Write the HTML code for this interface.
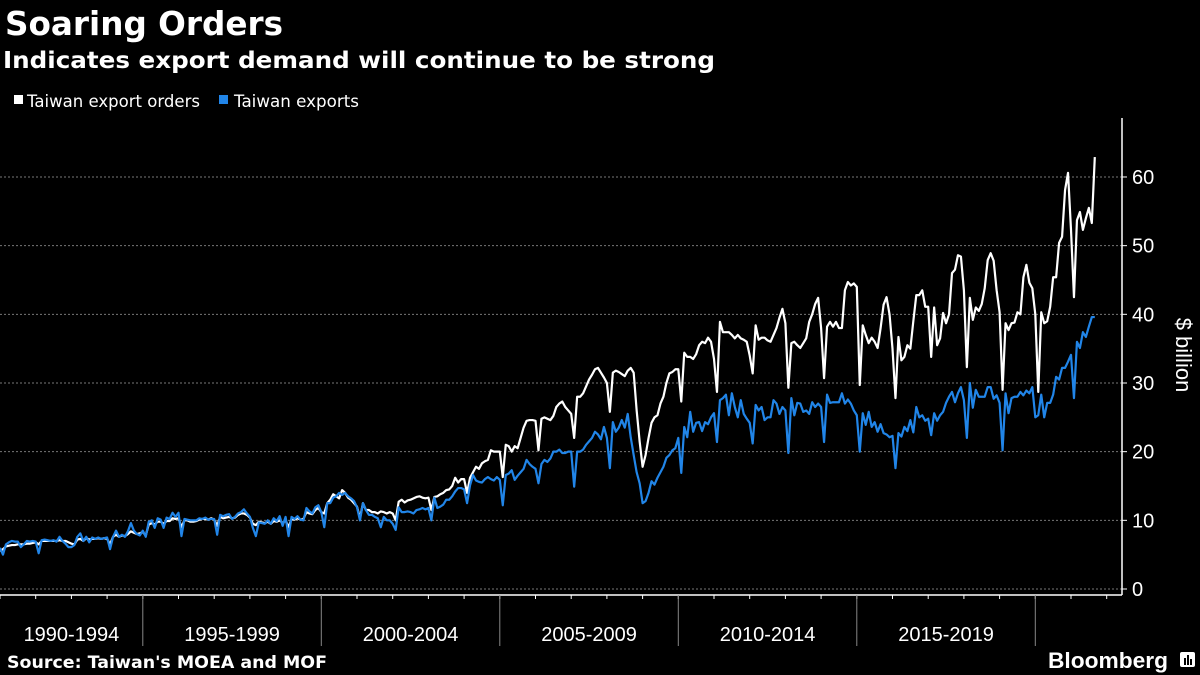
<!DOCTYPE html>
<html><head><meta charset="utf-8"><style>
html,body{margin:0;padding:0;background:#000;}
svg{display:block;font-family:"Liberation Sans","DejaVu Sans",sans-serif;}
.h{font-family:"DejaVu Sans","Liberation Sans",sans-serif;}
</style></head><body>
<svg id="chart" width="1200" height="675" viewBox="0 0 1200 675" xmlns="http://www.w3.org/2000/svg">
<rect x="0" y="0" width="1200" height="675" fill="#000"/>
<text class="h" x="5" y="35" fill="#fff" font-size="33" font-weight="bold" textLength="278" lengthAdjust="spacingAndGlyphs">Soaring Orders</text>
<text class="h" x="3" y="68" fill="#fff" font-size="23" font-weight="bold" textLength="712" lengthAdjust="spacingAndGlyphs">Indicates export demand will continue to be strong</text>
<g>
<g>
<rect x="14" y="95" width="9" height="9" fill="#fff"/>
<text class="h" x="27" y="107" fill="#fff" font-size="17" textLength="173" lengthAdjust="spacingAndGlyphs">Taiwan export orders</text>
</g>
<g>
<rect x="219" y="95" width="9" height="9" fill="#2185e8"/>
<text class="h" x="234" y="107" fill="#fff" font-size="17" textLength="125" lengthAdjust="spacingAndGlyphs">Taiwan exports</text>
</g>
</g>
<g id="grid"></g>
<g id="xaxis"></g>
<g id="yaxis"></g>
<g id="series"></g>
<text transform="translate(1176,355) rotate(90)" text-anchor="middle" fill="#fff" font-size="22">$ billion</text>
<text class="h" x="7" y="668" fill="#fff" font-size="17" font-weight="bold" textLength="320" lengthAdjust="spacingAndGlyphs">Source: Taiwan's MOEA and MOF</text>
<text x="1048" y="668" fill="#fff" font-size="22" font-weight="bold" textLength="120" lengthAdjust="spacingAndGlyphs">Bloomberg</text>
<g>
<rect x="1180" y="652" width="15" height="15" rx="2" fill="#fff"/>
<rect x="1184" y="658" width="2" height="7" fill="#000"/><rect x="1187" y="655" width="2" height="10" fill="#000"/><rect x="1190" y="659" width="2" height="6" fill="#000"/>
</g>
</svg>
<script>
const startYear = 1991;
const bandLabels = ["1990-1994","1995-1999","2000-2004","2005-2009","2010-2014","2015-2019"];
const bandStarts = [1990,1995,2000,2005,2010,2015,2020];
const yTicks = [0,10,20,30,40,50,60];
const orders = [
5.5,5.8,6.2,6.3,6.4,6.4,6.5,6.5,6.5,6.6,6.6,6.7,
6.8,6.5,7.0,7.0,7.0,7.0,7.0,7.0,7.1,7.0,7.0,6.8,
6.6,6.5,7.2,7.3,7.0,7.4,7.2,7.3,7.3,7.4,7.3,7.4,
7.3,6.5,7.6,7.9,7.6,7.8,7.7,8.0,8.4,8.2,8.0,8.1,
8.3,7.8,9.4,9.6,9.4,9.8,9.8,9.5,9.9,9.9,10.3,10.2,
10.3,9.0,10.0,10.0,9.8,9.8,9.9,10.1,10.2,10.2,10.1,10.3,
10.1,9.2,10.5,10.3,10.4,10.5,10.3,10.4,10.8,11.0,11.0,10.8,
10.4,9.5,9.3,9.8,9.7,9.6,9.8,9.5,9.9,9.8,10.0,9.6,
10.0,9.0,10.2,10.1,10.3,10.1,10.2,11.2,11.0,10.9,11.5,11.8,
11.2,11.0,12.5,13.0,13.8,13.5,13.2,14.4,14.0,13.3,13.0,12.5,
12.0,10.3,12.5,11.5,11.5,11.2,11.2,11.0,11.3,11.2,11.0,11.2,
11.0,10.0,12.7,13.0,12.6,12.9,13.0,13.2,13.4,13.5,13.3,13.2,
13.3,11.5,13.4,13.5,13.8,14.0,14.4,14.5,15.0,16.2,15.5,16.0,
16.0,14.0,16.2,17.0,17.8,17.5,18.3,18.6,18.8,20.2,20.0,20.0,
20.0,16.3,21.0,20.8,20.0,20.8,20.5,22.0,23.5,24.5,24.6,24.6,
24.5,20.2,24.8,25.0,24.8,24.6,25.2,26.5,27.0,27.3,26.5,26.0,
25.5,22.0,28.0,28.0,28.5,29.5,30.5,31.2,32.0,32.2,31.5,30.8,
30.0,25.8,31.5,31.8,31.6,31.3,31.0,31.8,32.2,31.5,26.0,21.5,
17.8,19.5,22.0,24.2,25.0,25.3,27.0,28.0,30.0,31.4,31.6,32.0,
32.0,27.3,34.4,33.8,33.8,33.5,34.2,35.5,36.0,35.8,36.6,36.0,
33.5,28.7,38.9,37.4,37.4,37.4,37.0,36.5,37.0,36.5,36.3,36.0,
34.0,31.4,38.4,36.3,36.6,36.6,36.2,36.0,37.0,38.0,39.5,40.8,
38.7,29.3,35.8,36.0,35.5,35.1,35.8,36.5,38.9,40.0,41.5,42.4,
38.0,30.7,38.2,38.9,38.2,38.9,38.0,38.0,43.5,44.7,44.2,44.5,
44.0,29.7,38.4,37.0,35.8,36.6,36.0,35.1,38.0,41.4,42.5,40.0,
35.0,27.8,36.7,33.3,33.8,35.5,35.0,39.0,42.8,42.8,43.5,41.1,
41.1,33.8,41.0,35.5,36.5,40.2,38.7,40.0,46.0,46.5,48.6,48.4,
43.5,32.3,42.4,39.2,41.0,40.5,41.5,43.8,47.9,48.9,47.8,43.5,
40.3,29.0,38.7,37.7,38.7,38.8,40.3,40.0,45.4,47.2,44.6,43.8,
40.0,28.7,40.3,38.7,39.0,41.1,45.4,45.4,50.4,51.3,58.1,60.6,
52.3,42.5,53.7,54.9,52.3,54.0,55.5,53.3,62.9
];
const exportsData = [
6.0,5.0,6.5,6.8,7.0,6.9,6.9,6.1,6.5,7.0,6.9,7.0,
6.9,5.2,7.1,7.2,7.1,7.0,7.1,6.9,7.6,7.0,6.6,6.1,
6.1,6.4,7.6,8.1,7.0,7.6,6.8,7.5,7.3,7.5,7.3,7.4,
7.5,5.8,7.6,8.5,7.6,7.9,7.6,8.4,9.6,8.5,8.0,7.8,
8.5,7.6,9.8,10.0,8.9,10.3,10.1,8.9,10.4,10.2,11.1,10.5,
11.1,7.7,10.2,10.1,10.0,10.0,10.0,10.3,10.2,10.4,10.1,10.2,
10.2,7.9,10.8,10.6,10.8,10.9,10.2,10.5,11.0,11.2,11.6,11.0,
10.5,8.9,7.7,9.7,9.6,9.5,10.0,9.5,10.3,9.9,10.6,9.2,
10.5,7.7,10.5,10.2,10.6,10.1,10.0,11.8,11.3,11.0,11.9,12.2,
11.2,9.0,12.5,12.5,13.3,13.5,14.0,13.7,14.0,13.5,13.2,12.8,
11.9,10.0,12.5,11.5,10.8,10.8,10.5,10.3,9.0,10.5,10.0,10.0,
9.5,8.6,11.9,11.2,11.2,11.3,11.2,11.0,11.5,11.6,11.8,11.6,
11.8,10.0,13.3,11.8,12.0,12.3,13.0,13.0,13.5,14.2,14.7,14.7,
14.5,12.5,15.1,16.6,15.8,15.6,15.5,16.0,16.3,16.0,15.8,16.3,
15.9,12.2,16.6,16.8,17.3,15.9,16.5,17.0,17.5,18.8,18.2,17.8,
17.5,15.4,18.2,18.8,18.5,19.0,20.0,20.0,20.3,19.8,19.8,20.0,
20.0,14.9,20.0,20.0,20.3,21.0,21.5,22.0,22.9,22.5,21.8,23.6,
22.0,17.6,24.3,22.9,23.5,24.6,23.5,25.5,22.1,19.5,17.0,15.4,
12.5,12.8,14.0,15.7,15.2,16.2,17.0,17.8,19.1,19.5,20.2,20.5,
22.0,16.9,23.6,22.1,25.8,22.9,24.2,24.3,23.0,24.3,24.0,25.0,
25.6,21.4,27.5,27.8,28.3,25.3,28.5,26.5,25.0,27.5,25.5,24.8,
24.2,21.2,26.8,26.0,26.5,24.6,25.0,25.0,27.5,27.0,25.5,26.5,
26.0,19.8,27.8,25.3,27.1,27.0,25.8,26.0,25.5,27.2,26.5,27.0,
26.5,21.4,28.3,27.1,27.2,27.2,27.2,28.5,27.0,27.6,27.0,26.0,
25.3,20.0,25.6,23.9,25.8,23.6,24.3,22.9,24.0,22.7,22.5,22.1,
22.3,17.6,22.7,22.2,23.6,23.0,24.6,22.8,26.5,25.0,25.3,24.5,
24.8,22.4,25.6,24.5,25.3,25.8,27.1,28.0,28.7,27.2,28.5,29.4,
27.5,22.0,30.0,26.4,29.0,28.0,28.0,28.0,29.4,29.4,27.7,28.2,
27.1,20.2,28.5,25.6,27.8,28.0,28.0,28.7,28.2,28.9,28.5,29.4,
25.0,25.3,28.3,25.0,27.1,27.1,28.3,30.9,30.5,32.2,32.2,33.1,
34.1,27.8,36.0,35.1,37.4,36.7,38.2,39.6,39.6
];

const NS = "http://www.w3.org/2000/svg";
const plotLeft = 0, plotRight = 1122, axisY = 595;
const yearW = 35.7;
function xYear(t){ return plotLeft + (t - startYear) * yearW; }
function xIndex(i){ return xYear(startYear + i / 12); }
function yVal(v){ return 589 - v * 6.867; }
function mk(tag, attrs, parent){
  const el = document.createElementNS(NS, tag);
  for (const k in attrs) el.setAttribute(k, attrs[k]);
  parent.appendChild(el);
  return el;
}
const grid = document.getElementById('grid');
const yaxis = document.getElementById('yaxis');
const xaxis = document.getElementById('xaxis');
const series = document.getElementById('series');

yTicks.forEach(v => {
  const ln = mk('line', {x1: plotLeft, x2: plotRight, y1: yVal(v), y2: yVal(v), stroke: '#777', 'stroke-width': 1, 'stroke-dasharray': '2,2'}, grid);
  
  
  const tk = mk('line', {x1: plotRight, x2: plotRight + 5, y1: yVal(v), y2: yVal(v), stroke: '#fff', 'stroke-width': 1}, yaxis);
  
  
  const tx = mk('text', {x: plotRight + 10, y: yVal(v) + 7, fill: '#fff', 'font-size': 20}, yaxis);
  tx.textContent = v;
  
  
});
const yl = mk('line', {x1: plotRight, x2: plotRight, y1: 118, y2: axisY, stroke: '#fff', 'stroke-width': 1.5}, yaxis);



const xl = mk('line', {x1: 0, x2: plotRight, y1: axisY, y2: axisY, stroke: '#fff', 'stroke-width': 1.5}, xaxis);


for (let yr = startYear; xYear(yr) < plotRight; yr++) {
  const t = mk('line', {x1: xYear(yr), x2: xYear(yr), y1: axisY, y2: axisY + 4, stroke: '#fff', 'stroke-width': 1}, xaxis);
  
  
}
bandStarts.forEach((b, i) => {
  if (i > 0) {
    const s = mk('line', {x1: xYear(b), x2: xYear(b), y1: axisY, y2: 646, stroke: '#888', 'stroke-width': 1}, xaxis);
    
    
  }
  if (i < bandLabels.length) {
    const x0 = Math.max(0, xYear(b)), x1 = xYear(bandStarts[i+1]);
    const lt = mk('text', {x: (x0 + x1) / 2, y: 641, fill: '#fff', 'font-size': 20, 'text-anchor': 'middle'}, xaxis);
    lt.textContent = bandLabels[i];
    
    
  }
});

function drawLine(vals, color, name){
  const d = vals.map((v, i) => (i ? 'L' : 'M') + xIndex(i).toFixed(2) + ',' + yVal(v).toFixed(2)).join('');
  const p = mk('path', {d: d, fill: 'none', stroke: color, 'stroke-width': 2.2, 'stroke-linejoin': 'round'}, series);
  
  
}
drawLine(orders, '#ffffff', 'line-export-orders');
drawLine(exportsData, '#2185e8', 'line-exports');
</script>
</body></html>
